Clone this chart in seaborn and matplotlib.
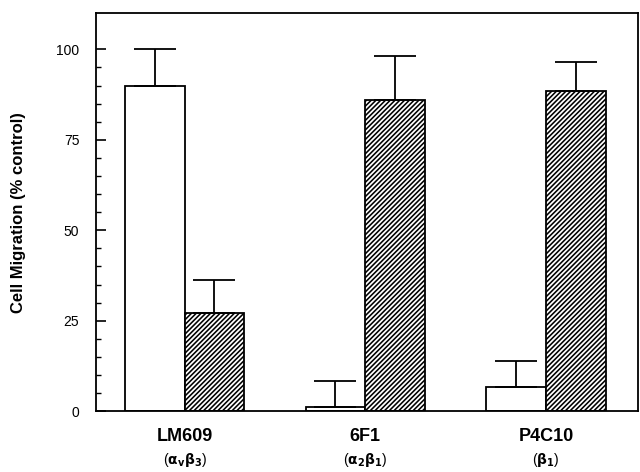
import matplotlib
matplotlib.use("Agg")
import matplotlib.pyplot as plt
import matplotlib.transforms as mtransforms
import numpy as np
import pandas as pd
import seaborn as sns

# antibodies and their integrin targets
antibodies = ["LM609", "6F1", "P4C10"]
targets = [r"($\alpha_v\beta_3$)", r"($\alpha_2\beta_1$)", r"($\beta_1$)"]
conditions = ["A", "B"]

# cell migration (% control)
white_vals = [90, 1.2, 6.7]
white_err = [10, 7.2, 7.2]
hatch_vals = [27, 86, 88.5]
hatch_err = [9.2, 12.3, 8.0]

df = pd.DataFrame({
    "antibody": antibodies * 2,
    "condition": [conditions[0]] * 3 + [conditions[1]] * 3,
    "migration": white_vals + hatch_vals,
})

sns.set_style("white")
plt.rcParams["font.family"] = ["Liberation Sans", "DejaVu Sans"]
plt.rcParams["mathtext.default"] = "bf"
plt.rcParams["hatch.linewidth"] = 1.15
plt.rcParams["text.color"] = "black"
plt.rcParams["axes.labelcolor"] = "black"
plt.rcParams["xtick.color"] = "black"
plt.rcParams["ytick.color"] = "black"

fig = plt.figure(figsize=(6.4, 4.72), dpi=100)
ax = fig.add_axes([0.15, 0.129, 0.847, 0.843])

sns.barplot(data=df, x="antibody", y="migration", hue="condition",
            order=antibodies, hue_order=conditions, width=0.66,
            palette=["white", "white"], edgecolor="black", linewidth=1.3,
            errorbar=None, legend=False, ax=ax)

# hatch the second series, add upward-only error bars
n = len(antibodies)
for i, p in enumerate(ax.patches[:2 * n]):
    series = i // n
    j = i % n
    err = white_err[j] if series == 0 else hatch_err[j]
    if series == 1:
        p.set_hatch("///////")
    xc = p.get_x() + p.get_width() / 2
    ax.errorbar(xc, p.get_height(), yerr=[[0], [err]], color="black",
                elinewidth=1.3, capsize=15, capthick=1.3, zorder=1)

ax.set_xlim(-0.49, 2.51)
ax.set_ylim(0, 110)
ax.set_yticks([0, 25, 50, 75, 100])
ax.set_yticks(np.arange(0, 105, 5), minor=True)
ax.tick_params(axis="y", which="major", direction="in", length=7, width=1.2,
               labelsize=10, pad=12, left=True)
ax.tick_params(axis="y", which="minor", direction="in", length=3.5, width=1,
               left=True)
ax.tick_params(axis="x", length=0, pad=12)

for s in ax.spines.values():
    s.set_color("black")
    s.set_linewidth(1.3)

ax.set_xlabel("")
ax.set_ylabel("Cell Migration (% control)", fontsize=12, fontweight="bold",
              labelpad=22)
ax.set_xticks(range(n))
ax.set_xticklabels(antibodies, fontsize=13, fontweight="bold")

trans = mtransforms.blended_transform_factory(ax.transData, ax.transAxes)
for j, t in enumerate(targets):
    ax.text(j, -0.1, t, transform=trans, ha="center", va="top",
            fontsize=10)

fig.savefig("out.png", dpi=100)
